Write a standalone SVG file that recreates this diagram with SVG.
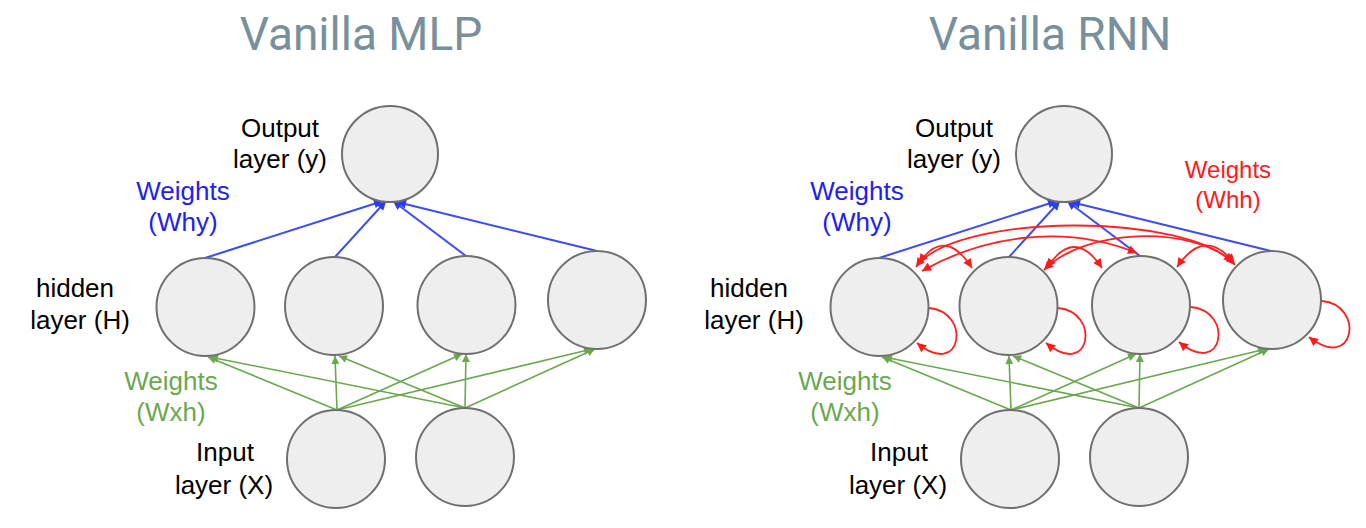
<svg xmlns="http://www.w3.org/2000/svg" width="1366" height="528" viewBox="0 0 1366 528">
<style>
.title{font-family:Roboto,"Liberation Sans",sans-serif;font-size:46px;fill:#78909c;text-anchor:middle}
.lbl{font-family:"Liberation Sans",Arial,sans-serif;font-size:26px;fill:#000;text-anchor:middle}
.blue{fill:#2020f5}
.green{fill:#6aa84f}
.red{fill:#ff1a1a}
.node{fill:#eeeeee;stroke:#6f6f6f;stroke-width:2}
.why{stroke:#3a4cf2;stroke-width:2;fill:none;marker-end:url(#ab)}
.wxh{stroke:#6aa84f;stroke-width:1.6;fill:none;marker-end:url(#ag)}
.whh{stroke:#ff2222;stroke-width:1.8;fill:none;marker-end:url(#ar)}
.both{marker-start:url(#ars)}
</style>
<defs>
<marker id="ab" viewBox="0 0 10 10" refX="10" refY="5" markerWidth="10" markerHeight="9" markerUnits="userSpaceOnUse" orient="auto"><path d="M0,0 L10,5 L0,10 z" fill="#2a3cf0"/></marker>
<marker id="ag" viewBox="0 0 10 10" refX="10" refY="5" markerWidth="9" markerHeight="8" markerUnits="userSpaceOnUse" orient="auto"><path d="M0,0 L10,5 L0,10 z" fill="#6aa84f"/></marker>
<marker id="ar" viewBox="0 0 10 10" refX="10" refY="5" markerWidth="10" markerHeight="9" markerUnits="userSpaceOnUse" orient="auto"><path d="M0,0 L10,5 L0,10 z" fill="#ff1a1a"/></marker>
<marker id="ars" viewBox="0 0 10 10" refX="0" refY="5" markerWidth="10" markerHeight="9" markerUnits="userSpaceOnUse" orient="auto"><path d="M10,0 L0,5 L10,10 z" fill="#ff1a1a"/></marker>
</defs>
<rect width="1366" height="528" fill="#ffffff"/>

<text class="title" x="361" y="50">Vanilla MLP</text>
<text class="title" x="1050" y="50">Vanilla RNN</text>

<!-- MLP labels -->
<g id="mlp-labels">
<text class="lbl" x="280" y="137">Output</text>
<text class="lbl" x="280" y="168">layer (y)</text>
<text class="lbl blue" x="183" y="200">Weights</text>
<text class="lbl blue" x="183" y="231">(Why)</text>
<text class="lbl" x="75" y="297">hidden</text>
<text class="lbl" x="80" y="329">layer (H)</text>
<text class="lbl green" x="171" y="390">Weights</text>
<text class="lbl green" x="171" y="421">(Wxh)</text>
<text class="lbl" x="225" y="461">Input</text>
<text class="lbl" x="224" y="494">layer (X)</text>
</g>

<!-- RNN labels -->
<g id="rnn-labels">
<text class="lbl" x="954" y="137">Output</text>
<text class="lbl" x="954" y="168">layer (y)</text>
<text class="lbl blue" x="857" y="200">Weights</text>
<text class="lbl blue" x="857" y="231">(Why)</text>
<text class="lbl" x="749" y="297">hidden</text>
<text class="lbl" x="754" y="329">layer (H)</text>
<text class="lbl green" x="845" y="390">Weights</text>
<text class="lbl green" x="845" y="421">(Wxh)</text>
<text class="lbl" x="899" y="461">Input</text>
<text class="lbl" x="898" y="494">layer (X)</text>
<text class="lbl red" x="1228" y="178" style="font-size:24px">Weights</text>
<text class="lbl red" x="1228" y="208" style="font-size:24px">(Whh)</text>
</g>

<!-- MLP connectors -->
<g id="mlp-connectors">
<line class="why" x1="205" y1="258" x2="383" y2="201"/>
<line class="why" x1="335" y1="257" x2="386" y2="201"/>
<line class="why" x1="466" y1="256" x2="393" y2="201"/>
<line class="why" x1="597" y1="251" x2="397" y2="202"/>
<line class="wxh" x1="337" y1="410" x2="208" y2="357"/>
<line class="wxh" x1="337" y1="410" x2="335" y2="356"/>
<line class="wxh" x1="337" y1="410" x2="462" y2="354"/>
<line class="wxh" x1="337" y1="410" x2="592" y2="349"/>
<line class="wxh" x1="465" y1="408" x2="210" y2="357"/>
<line class="wxh" x1="465" y1="408" x2="339" y2="356"/>
<line class="wxh" x1="465" y1="408" x2="466" y2="354"/>
<line class="wxh" x1="465" y1="408" x2="595" y2="349"/>
</g>

<!-- MLP nodes -->
<g id="mlp-output"><circle class="node" cx="390" cy="154" r="48"/></g>
<g id="mlp-h1"><circle class="node" cx="205.5" cy="307" r="49"/></g>
<g id="mlp-h2"><circle class="node" cx="334" cy="306" r="49"/></g>
<g id="mlp-h3"><circle class="node" cx="466.5" cy="305" r="49"/></g>
<g id="mlp-h4"><circle class="node" cx="597" cy="300" r="49"/></g>
<g id="mlp-x1"><circle class="node" cx="336" cy="459" r="49"/></g>
<g id="mlp-x2"><circle class="node" cx="465" cy="457" r="49"/></g>

<!-- RNN connectors -->
<g id="rnn-connectors">
<line class="why" x1="879" y1="258" x2="1057" y2="201"/>
<line class="why" x1="1009" y1="257" x2="1060" y2="201"/>
<line class="why" x1="1140" y1="256" x2="1067" y2="201"/>
<line class="why" x1="1271" y1="251" x2="1071" y2="202"/>
<line class="wxh" x1="1011" y1="410" x2="882" y2="357"/>
<line class="wxh" x1="1011" y1="410" x2="1009" y2="356"/>
<line class="wxh" x1="1011" y1="410" x2="1136" y2="354"/>
<line class="wxh" x1="1011" y1="410" x2="1266" y2="349"/>
<line class="wxh" x1="1139" y1="408" x2="884" y2="357"/>
<line class="wxh" x1="1139" y1="408" x2="1013" y2="356"/>
<line class="wxh" x1="1139" y1="408" x2="1140" y2="354"/>
<line class="wxh" x1="1139" y1="408" x2="1269" y2="349"/>
<!-- recurrent Whh -->
<path class="whh both" d="M916,267 C955,212 1190,212 1235,265"/>
<path class="whh both" d="M922,271 C980,238 1060,222 1137,253"/>
<path class="whh both" d="M1044,270 C1085,228 1190,225 1233,262"/>
<path class="whh both" d="M919,263 Q945,226 972,268"/>
<path class="whh both" d="M1047,268 Q1074,226 1102,268"/>
<path class="whh both" d="M1177,267 Q1205,226 1234,263"/>
<path class="whh" d="M929,308 C972,312 962,380 917,343"/>
<path class="whh" d="M1058,308 C1101,312 1091,380 1046,343"/>
<path class="whh" d="M1191,307 C1234,311 1224,379 1179,342"/>
<path class="whh" d="M1322,301 C1365,305 1355,373 1309,337"/>
</g>

<!-- RNN nodes -->
<g id="rnn-output"><circle class="node" cx="1064" cy="154" r="48"/></g>
<g id="rnn-h1"><circle class="node" cx="879.5" cy="307" r="49"/></g>
<g id="rnn-h2"><circle class="node" cx="1008.5" cy="306" r="49"/></g>
<g id="rnn-h3"><circle class="node" cx="1141" cy="305" r="49"/></g>
<g id="rnn-h4"><circle class="node" cx="1272" cy="300" r="49"/></g>
<g id="rnn-x1"><circle class="node" cx="1010" cy="459" r="49"/></g>
<g id="rnn-x2"><circle class="node" cx="1139" cy="457" r="49"/></g>
</svg>
